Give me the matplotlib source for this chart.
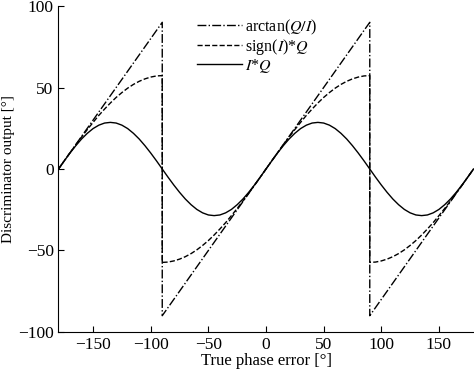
import matplotlib
matplotlib.use('Agg')
from matplotlib import pyplot as plt

plt.rcParams['font.family'] = ['Liberation Serif', 'DejaVu Serif']
plt.rcParams['mathtext.fontset'] = 'stix'
plt.rcParams['font.size'] = 11.5

# arctan(Q/I): sawtooth, break points
atan_x = [-180, -90, -90, 90, 90, 180]
atan_y = [0, 90, -90, 90, -90, 0]

phase = [-180, -175, -170, -165, -160, -155, -150, -145, -140, -135,
         -130, -125, -120, -115, -110, -105, -100, -95, -90,
         -90, -85, -80, -75, -70, -65, -60, -55, -50, -45,
         -40, -35, -30, -25, -20, -15, -10, -5, 0,
         5, 10, 15, 20, 25, 30, 35, 40, 45,
         50, 55, 60, 65, 70, 75, 80, 85, 90,
         90, 95, 100, 105, 110, 115, 120, 125, 130, 135,
         140, 145, 150, 155, 160, 165, 170, 175, 180]
sign_q = [0, 5.0, 10.0, 14.8, 19.6, 24.2, 28.6, 32.9, 36.8, 40.5,
          43.9, 46.9, 49.6, 51.9, 53.8, 55.3, 56.4, 57.1, 57.3,
          -57.3, -57.1, -56.4, -55.3, -53.8, -51.9, -49.6, -46.9, -43.9, -40.5,
          -36.8, -32.9, -28.6, -24.2, -19.6, -14.8, -10.0, -5.0, 0,
          5.0, 10.0, 14.8, 19.6, 24.2, 28.6, 32.9, 36.8, 40.5,
          43.9, 46.9, 49.6, 51.9, 53.8, 55.3, 56.4, 57.1, 57.3,
          -57.3, -57.1, -56.4, -55.3, -53.8, -51.9, -49.6, -46.9, -43.9, -40.5,
          -36.8, -32.9, -28.6, -24.2, -19.6, -14.8, -10.0, -5.0, 0]
iq = [0, 5.0, 9.8, 14.3, 18.4, 21.9, 24.8, 26.9, 28.2, 28.6,
      28.2, 26.9, 24.8, 21.9, 18.4, 14.3, 9.8, 5.0, 0,
      0, -5.0, -9.8, -14.3, -18.4, -21.9, -24.8, -26.9, -28.2, -28.6,
      -28.2, -26.9, -24.8, -21.9, -18.4, -14.3, -9.8, -5.0, 0,
      5.0, 9.8, 14.3, 18.4, 21.9, 24.8, 26.9, 28.2, 28.6,
      28.2, 26.9, 24.8, 21.9, 18.4, 14.3, 9.8, 5.0, 0,
      0, -5.0, -9.8, -14.3, -18.4, -21.9, -24.8, -26.9, -28.2, -28.6,
      -28.2, -26.9, -24.8, -21.9, -18.4, -14.3, -9.8, -5.0, 0]

fig = plt.figure(figsize=(4.74, 3.69), dpi=100)
ax = fig.add_axes([0.1234, 0.1003, 0.8756, 0.8834])

ax.plot(atan_x, atan_y, 'k-.', lw=1.0, label=r'arctan($Q/I$)')
ax.plot(phase, sign_q, 'k--', lw=1.0, label=r'sign($I$)*$Q$')
ax.plot(phase, iq, 'k-', lw=1.0, label=r'$I$*$Q$')

ax.set_xlim(-180, 180)
ax.set_ylim(-100, 100)
ax.set_xticks([-150, -100, -50, 0, 50, 100, 150])
ax.set_yticks([-100, -50, 0, 50, 100])
ax.spines['top'].set_visible(False)
ax.spines['right'].set_visible(False)
ax.tick_params(direction='in', length=4, width=0.8, labelsize=12.5)
ax.set_xlabel('True phase error [°]', fontsize=12, labelpad=0)
ax.set_ylabel('Discriminator output [°]', fontsize=11, labelpad=2)

leg = ax.legend(loc='upper right', bbox_to_anchor=(0.64, 0.985), frameon=False,
                handlelength=2.8, handletextpad=0.2, labelspacing=0.0,
                borderaxespad=0)

plt.savefig('out.png', dpi=100)
